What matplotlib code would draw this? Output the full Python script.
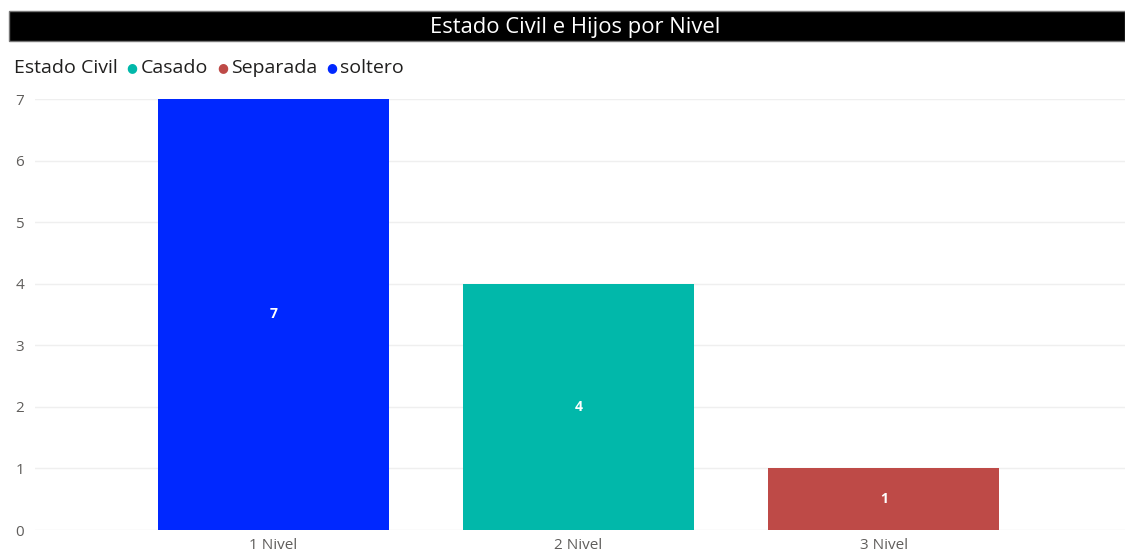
import matplotlib.pyplot as plt
from matplotlib.patches import Rectangle

niveles = ["1 Nivel", "2 Nivel", "3 Nivel"]
estado = ["soltero", "Casado", "Separada"]
valores = [7, 4, 1]
legend_order = ["Casado", "Separada", "soltero"]
colores = {"Casado": "#01B8AA", "Separada": "#BE4A47", "soltero": "#0028FF"}
yticks = [0, 1, 2, 3, 4, 5, 6, 7]

plt.rcParams['font.family'] = ['Open Sans', 'DejaVu Sans']

W, H = 1125, 554
fig = plt.figure(figsize=(W / 100, H / 100), dpi=100)

# title bar
fig.patches.append(Rectangle((9 / W, 1 - 41 / H), 1 - 9 / W, 30 / H, transform=fig.transFigure,
                             facecolor="black", edgecolor="#777777", linewidth=1))
fig.text(575 / W, 1 - 27 / H, "Estado Civil e Hijos por Nivel", color="white",
         fontsize=15.8, ha="center", va="center")

ax = fig.add_axes([35 / W, 24 / H, 1 - 35 / W, (530 - 99) / H])
x = range(len(niveles))
bars = ax.bar(x, valores, width=0.756, color=[colores[e] for e in estado], zorder=2)
for b, v in zip(bars, valores):
    ax.text(b.get_x() + b.get_width() / 2, v / 2, str(v), color="white", fontsize=10,
            fontweight="bold", ha="center", va="center", zorder=3)

ax.set_xlim(-0.78, 2.79)
ax.set_ylim(0, 7)
ax.set_yticks(yticks)
ax.set_xticks(list(x))
ax.set_xticklabels(niveles)
ax.grid(axis="y", color="#EFEFEF", linewidth=1, zorder=0)
for s in ax.spines.values():
    s.set_visible(False)
ax.tick_params(axis="both", length=0, labelsize=11, colors="#605E5C")
ax.tick_params(axis="y", pad=14)
for lab in ax.get_yticklabels():
    lab.set_horizontalalignment("left")
ax.tick_params(axis="x", pad=6)

# legend drawn as a row of texts
fig.canvas.draw()
r = fig.canvas.get_renderer()
ypos = 1 - 68 / H
t = fig.text(14 / W, ypos, "Estado Civil", fontsize=14, color="#201F1E", va="center")
xpos = t.get_window_extent(r).x1 + 9
for name in legend_order:
    m = fig.text(xpos / W, ypos, "●", fontsize=9, color=colores[name], va="center",
                 family="DejaVu Sans")
    xpos = m.get_window_extent(r).x1 + 3
    lt = fig.text(xpos / W, ypos, name, fontsize=14, color="#201F1E", va="center")
    xpos = lt.get_window_extent(r).x1 + 9

fig.savefig("out.png", dpi=100)
